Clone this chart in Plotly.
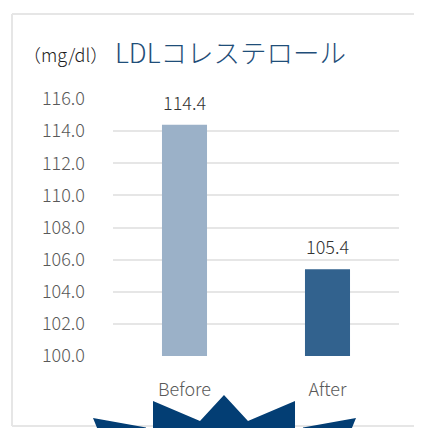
import plotly.graph_objects as go

categories = ["Before", "After"]
values = [114.4, 105.4]
value_labels = ["114.4", "105.4"]
bar_colors = ["#9BB1C8", "#32628E"]
y_ticks = [100, 102, 104, 106, 108, 110, 112, 114, 116]
y_tick_labels = ["100.0", "102.0", "104.0", "106.0", "108.0", "110.0", "112.0", "114.0", "116.0"]
title_text = "LDLコレステロール"
unit_text = "（mg/dl）"

# page has an 8px body margin; work in page pixels and convert
OFF = 8
W, H = 422 - OFF, 428 - OFF
L, R, T, B = 113 - OFF, 23, 99 - OFF, 72
PW, PH = W - L - R, H - T - B

def px(x):
    return (x - OFF - L) / PW

def py(y):
    return (H - B - (y - OFF)) / PH

FONT = "Noto Sans CJK JP Light, Noto Sans CJK JP"

fig = go.Figure()
fig.add_trace(go.Bar(
    x=categories, y=values, marker=dict(color=bar_colors, line=dict(width=0)),
    width=0.315, hoverinfo="skip",
))

for c, v, t in zip(categories, values, value_labels):
    fig.add_annotation(x=c, y=v, text=t, showarrow=False, yanchor="bottom",
                       yshift=8, font=dict(family=FONT, size=18, color="#333333"))

shapes = []
border = [((12, 14), (440, 14)), ((12, 14), (12, 426)), ((12, 426), (440, 426))]
for (x0, y0), (x1, y1) in border:
    shapes.append(dict(type="line", xref="paper", yref="paper",
                       x0=px(x0), y0=py(y0), x1=px(x1), y1=py(y1),
                       line=dict(color="#E6E6E6", width=2), layer="above"))

# decorative burst peeking in at the bottom
pieces = [
    [(93, 418), (146, 427.5), (146, 445), (104, 445)],
    [(153, 401), (200, 421), (224, 395), (248, 421), (295, 401), (295, 445), (153, 445)],
    [(303, 427.5), (356, 418), (345, 445), (303, 445)],
]
path = " ".join("M " + " L ".join(f"{px(x):.4f},{py(y):.4f}" for x, y in p) + " Z"
                for p in pieces)
shapes.append(dict(type="path", xref="paper", yref="paper", path=path,
                   fillcolor="#033E74", line=dict(width=0), layer="above"))

fig.add_annotation(xref="paper", yref="paper", x=px(113), y=py(52), text=title_text,
                   showarrow=False, xanchor="left", yanchor="middle",
                   font=dict(family=FONT, size=26.5, color="#1F4E79"))
fig.add_annotation(xref="paper", yref="paper", x=px(21), y=py(54), text=unit_text,
                   showarrow=False, xanchor="left", yanchor="middle",
                   font=dict(family=FONT, size=18, color="#1a1a1a"))

fig.update_layout(
    width=W, height=H, margin=dict(l=L, r=R, t=T, b=B),
    paper_bgcolor="white", plot_bgcolor="white", showlegend=False,
    shapes=shapes, bargap=0.685,
    font=dict(family=FONT),
)
fig.update_xaxes(showgrid=False, showline=False, zeroline=False,
                 ticklabelstandoff=21,
                 tickfont=dict(family=FONT, size=18, color="#595959"))
fig.update_yaxes(range=[100, 116], tickvals=y_ticks, ticktext=y_tick_labels,
                 showgrid=True, gridcolor="#E6E6E6", gridwidth=1.5,
                 zeroline=False, showline=False, ticklabelstandoff=27,
                 tickfont=dict(family=FONT, size=18, color="#595959"))

fig.write_html("out.html")
